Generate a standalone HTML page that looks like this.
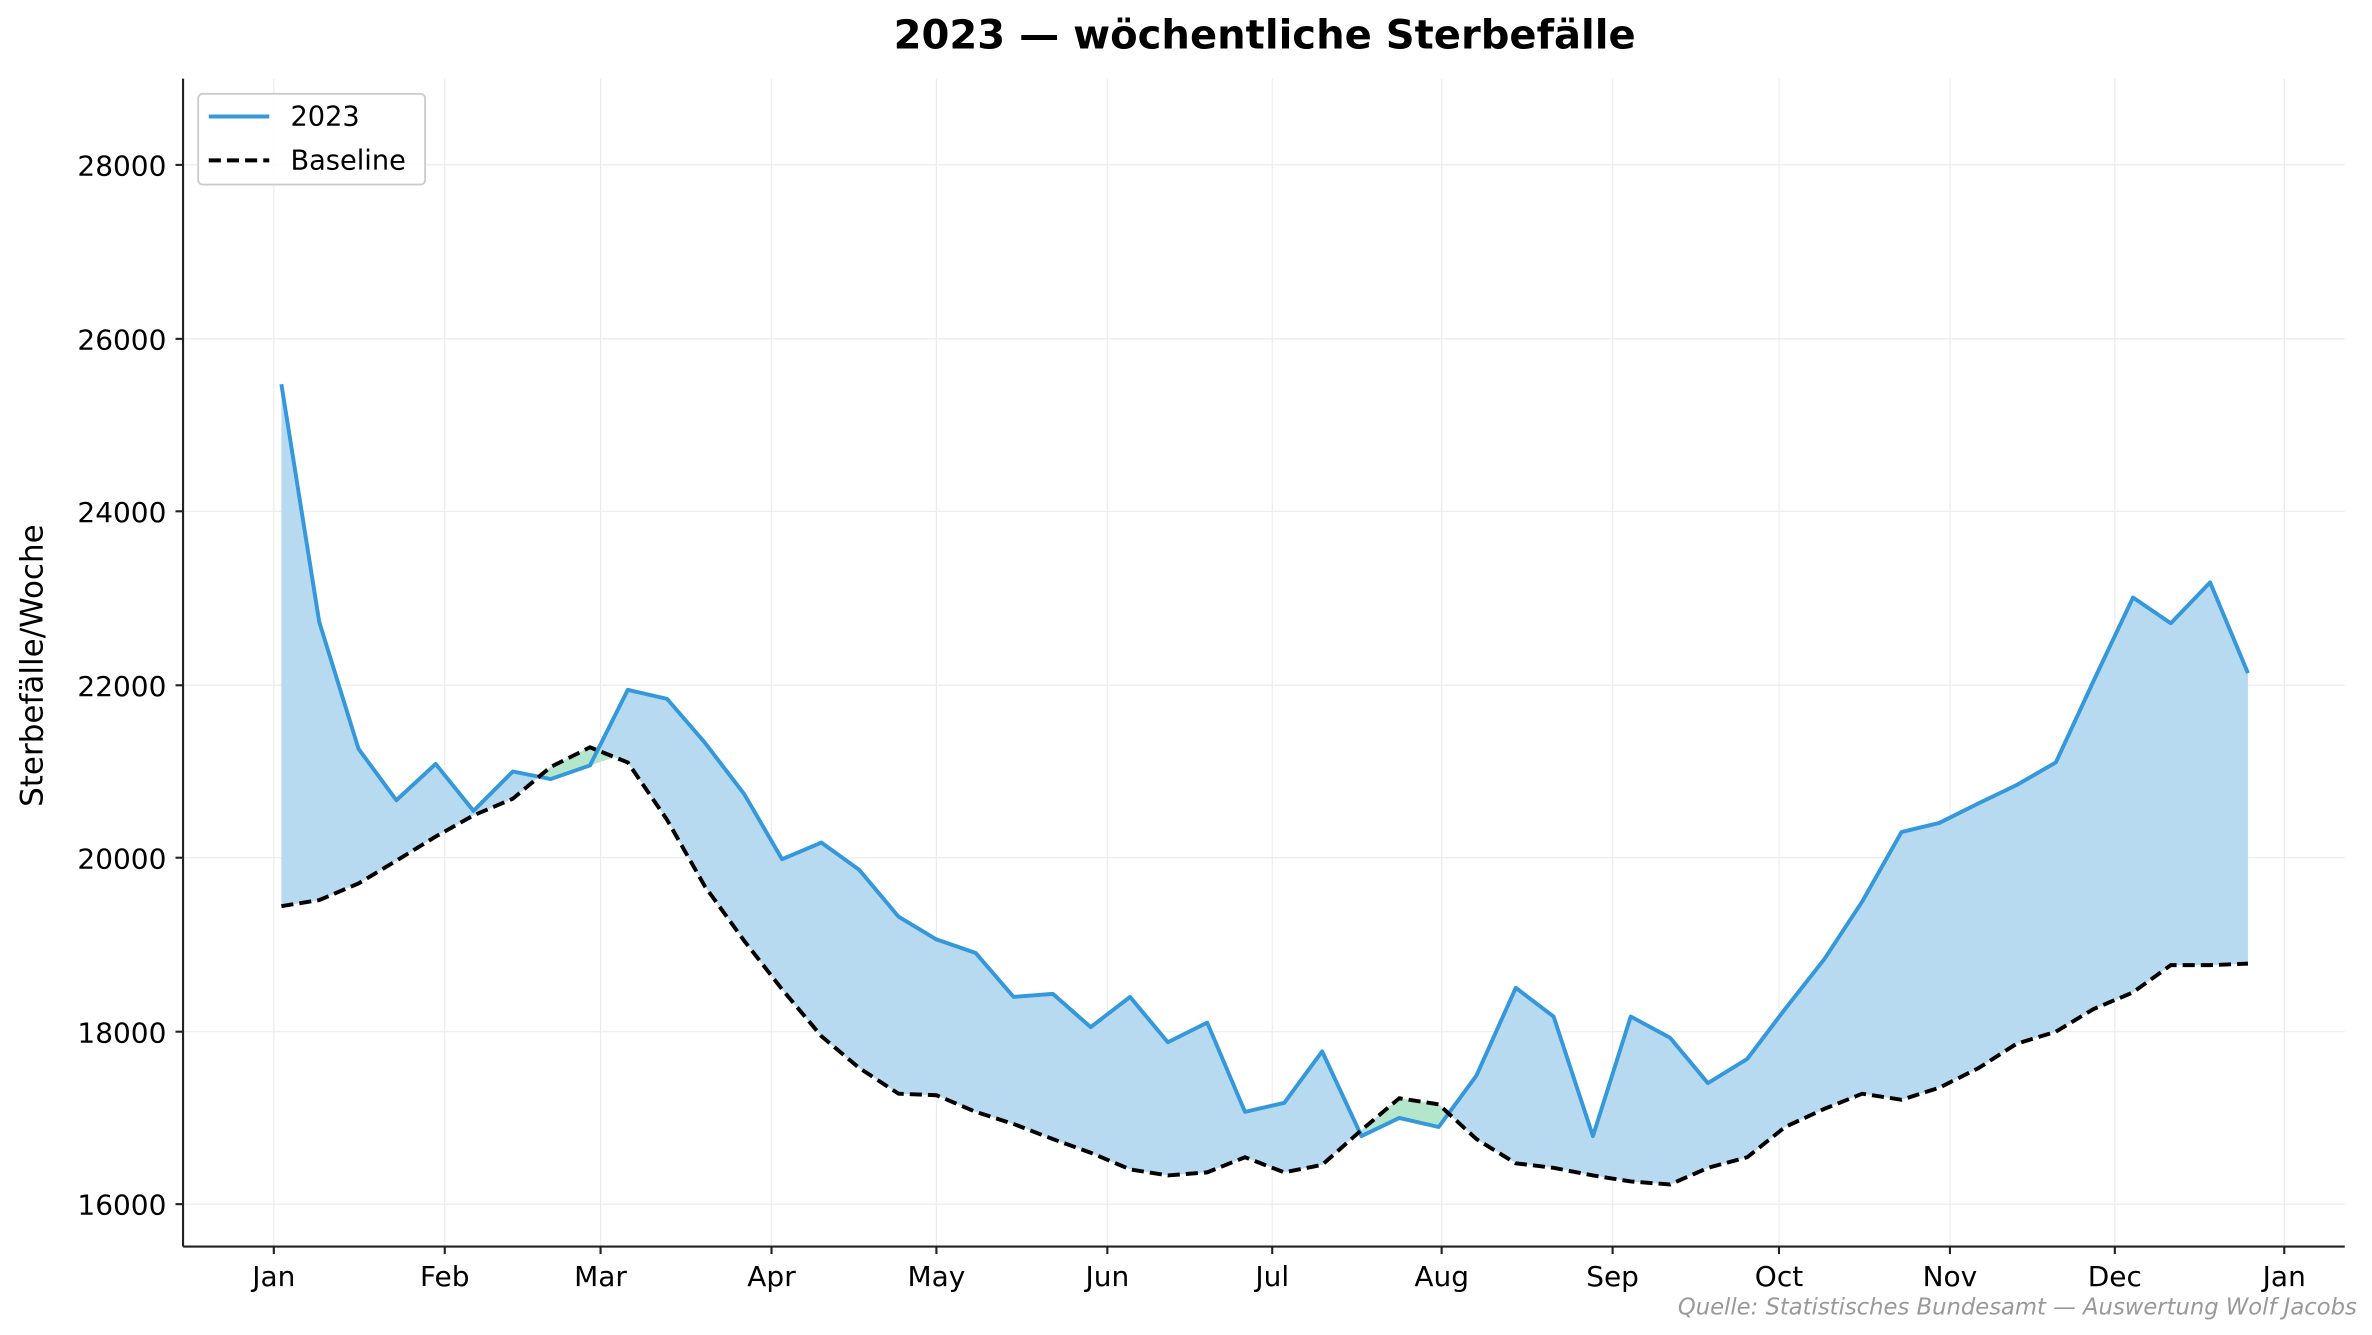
<!DOCTYPE html>
<html><head><meta charset="utf-8"><style>html,body{margin:0;padding:0;background:#fff}svg{display:block}</style></head>
<body>
<svg width="2372" height="1335" viewBox="0 0 1568 882.5" xmlns="http://www.w3.org/2000/svg" font-family="'DejaVu Sans','Liberation Sans',sans-serif">
<rect width="1568" height="882.5" fill="#fff"/>
<g stroke="#ececec" stroke-width="0.8">
<line x1="121" x2="1550" y1="109" y2="109"/><line x1="121" x2="1550" y1="224" y2="224"/><line x1="121" x2="1550" y1="338" y2="338"/><line x1="121" x2="1550" y1="453" y2="453"/><line x1="121" x2="1550" y1="567" y2="567"/><line x1="121" x2="1550" y1="682" y2="682"/><line x1="121" x2="1550" y1="796" y2="796"/>
<line y1="52" y2="824" x1="181" x2="181"/><line y1="52" y2="824" x1="294" x2="294"/><line y1="52" y2="824" x1="397" x2="397"/><line y1="52" y2="824" x1="510" x2="510"/><line y1="52" y2="824" x1="619" x2="619"/><line y1="52" y2="824" x1="732" x2="732"/><line y1="52" y2="824" x1="841" x2="841"/><line y1="52" y2="824" x1="953" x2="953"/><line y1="52" y2="824" x1="1066" x2="1066"/><line y1="52" y2="824" x1="1176" x2="1176"/><line y1="52" y2="824" x1="1289" x2="1289"/><line y1="52" y2="824" x1="1398" x2="1398"/><line y1="52" y2="824" x1="1510" x2="1510"/>
</g>
<polygon fill="#b8daf0" points="186,254 211,411 237,495 262,529 288,505 313,536 339,510 364,515 390,506 415,456 441,462 466,491 492,525 517,568 543,557 568,575 594,606 619,621 645,630 670,659 696,657 721,679 747,659 772,689 798,676 823,735 849,729 874,695 900,751 925,739 951,745 976,711 1002,653 1027,672 1053,751 1078,672 1104,686 1129,716 1155,700 1180,667 1206,634 1231,596 1257,550 1282,544 1308,531 1333,519 1359,504 1384,450 1410,395 1435,412 1461,385 1486,445 1486,637 1461,638 1435,638 1410,656 1384,667 1359,682 1333,690 1308,706 1282,719 1257,727 1231,723 1206,733 1180,745 1155,765 1129,772 1104,783 1078,781 1053,777 1027,772 1002,769 976,753 951,730 925,726 900,747 874,770 849,775 823,765 798,775 772,777 747,773 721,762 696,753 670,743 645,735 619,724 594,723 568,706 543,685 517,654 492,622 466,586 441,542 415,504 390,494 364,507 339,528 313,539 288,553 262,569 237,584 211,595 186,599"/>
<polygon fill="#b4e6cc" points="356,514 364,507 390,494 408,500 390,506 364,515"/>
<polygon fill="#b4e6cc" points="900,750 925,726 951,730 958,738 951,745 925,739"/>
<polyline fill="none" stroke="#3498db" stroke-width="2.6" stroke-linejoin="round" points="186,254 211,411 237,495 262,529 288,505 313,536 339,510 364,515 390,506 415,456 441,462 466,491 492,525 517,568 543,557 568,575 594,606 619,621 645,630 670,659 696,657 721,679 747,659 772,689 798,676 823,735 849,729 874,695 900,751 925,739 951,745 976,711 1002,653 1027,672 1053,751 1078,672 1104,686 1129,716 1155,700 1180,667 1206,634 1231,596 1257,550 1282,544 1308,531 1333,519 1359,504 1384,450 1410,395 1435,412 1461,385 1486,445"/>
<polyline fill="none" stroke="#000" stroke-width="2.6" stroke-dasharray="8,4" points="186,599 211,595 237,584 262,569 288,553 313,539 339,528 364,507 390,494 415,504 441,542 466,586 492,622 517,654 543,685 568,706 594,723 619,724 645,735 670,743 696,753 721,762 747,773 772,777 798,775 823,765 849,775 874,770 900,747 925,726 951,730 976,753 1002,769 1027,772 1053,777 1078,781 1104,783 1129,772 1155,765 1180,745 1206,733 1231,723 1257,727 1282,719 1308,706 1333,690 1359,682 1384,667 1410,656 1435,638 1461,638 1486,637"/>
<g stroke="#222" stroke-width="1.4">
<line x1="121" y1="52" x2="121" y2="824"/><line x1="121" y1="824" x2="1550" y2="824"/>
<line x1="116" x2="121" y1="109" y2="109"/><line x1="116" x2="121" y1="224" y2="224"/><line x1="116" x2="121" y1="338" y2="338"/><line x1="116" x2="121" y1="453" y2="453"/><line x1="116" x2="121" y1="567" y2="567"/><line x1="116" x2="121" y1="682" y2="682"/><line x1="116" x2="121" y1="796" y2="796"/>
<line y1="824" y2="829" x1="181" x2="181"/><line y1="824" y2="829" x1="294" x2="294"/><line y1="824" y2="829" x1="397" x2="397"/><line y1="824" y2="829" x1="510" x2="510"/><line y1="824" y2="829" x1="619" x2="619"/><line y1="824" y2="829" x1="732" x2="732"/><line y1="824" y2="829" x1="841" x2="841"/><line y1="824" y2="829" x1="953" x2="953"/><line y1="824" y2="829" x1="1066" x2="1066"/><line y1="824" y2="829" x1="1176" x2="1176"/><line y1="824" y2="829" x1="1289" x2="1289"/><line y1="824" y2="829" x1="1398" x2="1398"/><line y1="824" y2="829" x1="1510" x2="1510"/>
</g>
<g font-size="18.5" fill="#000" text-anchor="end">
<text x="110" y="116">28000</text><text x="110" y="231">26000</text><text x="110" y="345">24000</text><text x="110" y="460">22000</text><text x="110" y="574">20000</text><text x="110" y="689">18000</text><text x="110" y="803">16000</text>
</g>
<g font-size="18.5" fill="#000" text-anchor="middle">
<text x="181" y="850">Jan</text><text x="294" y="850">Feb</text><text x="397" y="850">Mar</text><text x="510" y="850">Apr</text><text x="619" y="850">May</text><text x="732" y="850">Jun</text><text x="841" y="850">Jul</text><text x="953" y="850">Aug</text><text x="1066" y="850">Sep</text><text x="1176" y="850">Oct</text><text x="1289" y="850">Nov</text><text x="1398" y="850">Dec</text><text x="1510" y="850">Jan</text>
</g>
<text x="28" y="440" font-size="20.5" text-anchor="middle" transform="rotate(-90 28 440)">Sterbefälle/Woche</text>
<text x="836" y="32" font-size="26.5" font-weight="bold" text-anchor="middle">2023 — wöchentliche Sterbefälle</text>
<text x="1558" y="869" font-size="15" font-style="italic" fill="#999" text-anchor="end">Quelle: Statistisches Bundesamt — Auswertung Wolf Jacobs</text>
<rect x="131" y="62" width="150" height="60" rx="3" fill="#fff" fill-opacity="0.85" stroke="#ccc" stroke-width="1.2"/>
<line x1="138" y1="77" x2="178" y2="77" stroke="#3498db" stroke-width="2.6"/>
<line x1="138" y1="106" x2="178" y2="106" stroke="#000" stroke-width="2.6" stroke-dasharray="8,4"/>
<text x="192" y="83" font-size="18">2023</text>
<text x="192" y="112" font-size="18">Baseline</text>
</svg>
</body></html>
